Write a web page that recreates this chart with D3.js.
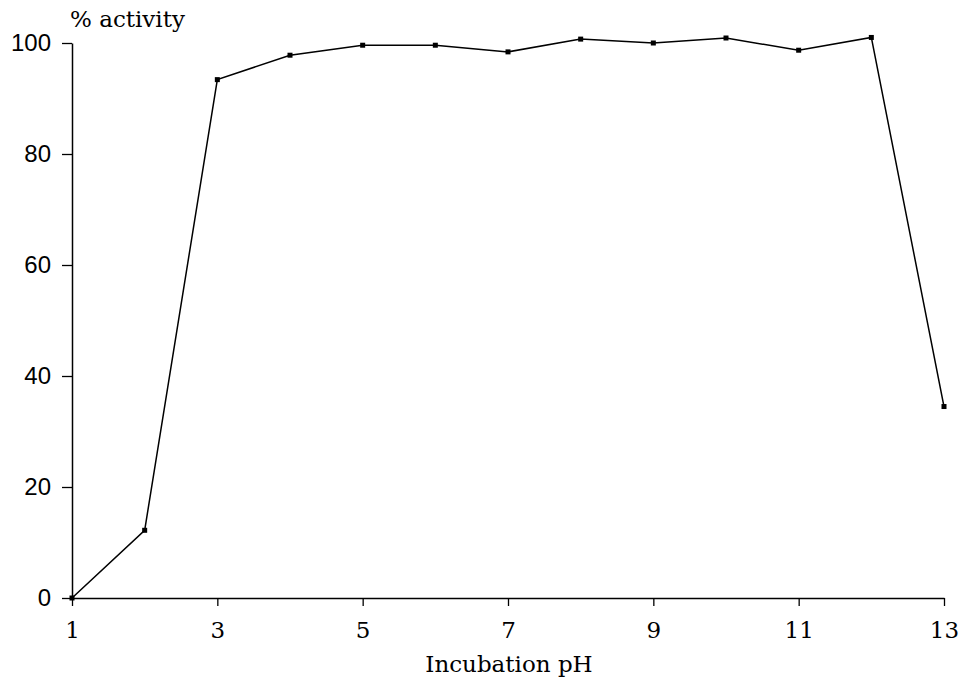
<!DOCTYPE html>
<html><head><meta charset="utf-8">
<script src="https://cdn.jsdelivr.net/npm/d3@7"></script>
<style>body{margin:0;background:#fff}</style>
</head><body>
<svg id="c" width="960" height="680"></svg>
<script>
const phValues = [1,2,3,4,5,6,7,8,9,10,11,12,13];
const activity = [0,12.2,93.4,97.8,99.6,99.6,98.4,100.7,100,100.9,98.7,101,34.5];
const xTicks = [1,3,5,7,9,11,13];
const yTicks = [0,20,40,60,80,100];
const xLabel = "Incubation pH";
const yLabel = "% activity";

const svg = d3.select("#c");
const x = d3.scaleLinear().domain([1,13]).range([72,944]);
const y = d3.scaleLinear().domain([0,100]).range([598,43]);

const xAxis = svg.append("g").attr("transform","translate(0,598)")
  .call(d3.axisBottom(x).tickValues(xTicks).tickSize(8).tickPadding(16).tickSizeOuter(0));
xAxis.select(".domain").attr("stroke-width",1.5);
xAxis.selectAll("text").attr("font-family","'DejaVu Serif', serif").attr("font-size",23).attr("fill","#000");
xAxis.selectAll("line").attr("stroke-width",1.3);

const yAxis = svg.append("g").attr("transform","translate(72,0)")
  .call(d3.axisLeft(y).tickValues(yTicks).tickSize(10).tickPadding(11).tickSizeOuter(0));
yAxis.select(".domain").attr("stroke-width",1.5);
yAxis.selectAll("text").attr("font-family","'Liberation Sans', Arial, sans-serif").attr("font-size",24).attr("fill","#000");
yAxis.selectAll("line").attr("stroke-width",1.3);

svg.append("text").attr("x",70).attr("y",27).attr("font-family","'DejaVu Serif', serif")
  .attr("font-size",23).text(yLabel);
svg.append("text").attr("x",509).attr("y",672).attr("text-anchor","middle")
  .attr("font-family","'DejaVu Serif', serif").attr("font-size",23).text(xLabel);

const data = phValues.map((p,i)=>({p, v:activity[i]}));
svg.append("path").datum(data)
  .attr("fill","none").attr("stroke","#000").attr("stroke-width",1.5)
  .attr("d", d3.line().x(d=>x(d.p)).y(d=>y(d.v)));
svg.selectAll("rect.m").data(data).join("rect").attr("class","m")
  .attr("x",d=>x(d.p)-2.5).attr("y",d=>y(d.v)-2.5).attr("width",5).attr("height",5).attr("fill","#000");
</script>
</body></html>
